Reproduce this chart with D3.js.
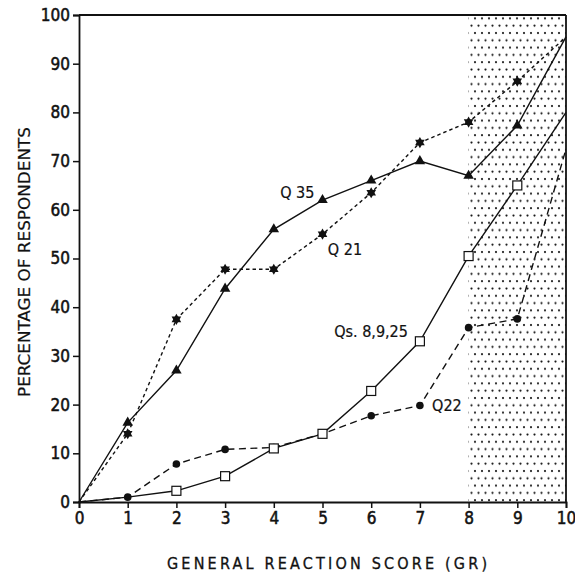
<!DOCTYPE html>
<html><head><meta charset="utf-8">
<script src="https://cdn.jsdelivr.net/npm/d3@7"></script>
<style>body{margin:0;background:#fff}svg{display:block}</style>
</head><body>
<script>
const xs = [0,1,2,3,4,5,6,7,8,9,10];
const q35 = [0,16.3,27,43.8,56,62,66,70,67,77.3,95.5];
const q21 = [0,14,37.5,47.8,47.8,55,63.5,73.8,78,86.4,95.5];
const qs8925 = [0,1,2.3,5.3,11,14,22.8,33,50.5,65,80];
const q22 = [0,1,7.8,10.8,11.2,14,17.7,19.8,35.8,37.6,72.5];
const yTicks = [0,10,20,30,40,50,60,70,80,90,100];
const xTicks = [0,1,2,3,4,5,6,7,8,9,10];
const shadeRange = [8,10];
const labels = [
  {text:"Q 35", x:4.13, y:62.4},
  {text:"Q 21", x:5.11, y:50.7},
  {text:"Qs. 8,9,25", x:5.24, y:33.9},
  {text:"Q22", x:7.25, y:18.7}
];
const xTitle = "GENERAL REACTION SCORE (GR)";
const yTitle = "PERCENTAGE OF RESPONDENTS";

const W=575,H=577, m={l:79,t:15,r:9,b:75};
const iw=W-m.l-m.r, ih=H-m.t-m.b;
const FONT="'DejaVu Sans Condensed','DejaVu Sans',sans-serif";
const svg=d3.select("body").append("svg").attr("width",W).attr("height",H);
const defs=svg.append("defs");
const pat=defs.append("pattern").attr("id","dots").attr("patternUnits","userSpaceOnUse")
  .attr("width",7).attr("height",14.6).attr("x",m.l).attr("y",m.t);
pat.append("circle").attr("cx",2).attr("cy",3).attr("r",1.1).attr("fill","#111");
pat.append("circle").attr("cx",5.5).attr("cy",10.3).attr("r",1.1).attr("fill","#111");

const g=svg.append("g").attr("transform",`translate(${m.l},${m.t})`);
const x=d3.scaleLinear().domain([0,10]).range([0,iw]);
const y=d3.scaleLinear().domain([0,100]).range([ih,0]);

g.append("rect").attr("x",x(shadeRange[0])).attr("y",0)
  .attr("width",x(shadeRange[1])-x(shadeRange[0])).attr("height",ih).attr("fill","url(#dots)");

const line=d3.line().x((d,i)=>x(xs[i])).y(d=>y(d));
function series(vals,dash){
  g.append("path").datum(vals).attr("d",line).attr("fill","none")
   .attr("stroke","#111").attr("stroke-width",1.4).attr("stroke-dasharray",dash);
}
series(q35,null);
series(q21,"3.5,3");
series(qs8925,null);
series(q22,"7,4.5");

// markers only at interior points (1..9)
const mk = a => a.slice(1,10);
const tri=d3.symbol().type(d3.symbolTriangle).size(48);
const triS=d3.symbol().type(d3.symbolTriangle).size(40);
g.selectAll(".t35").data(mk(q35)).join("path")
  .attr("d",tri).attr("transform",(d,i)=>`translate(${x(xs[i+1])},${y(d)})`).attr("fill","#111");
const st=g.selectAll(".s21").data(mk(q21)).join("g")
  .attr("transform",(d,i)=>`translate(${x(xs[i+1])},${y(d)})`);
st.append("path").attr("d",triS).attr("fill","#111");
st.append("path").attr("d",triS).attr("transform","rotate(180)").attr("fill","#111");
g.selectAll(".c22").data(mk(q22)).join("circle")
  .attr("cx",(d,i)=>x(xs[i+1])).attr("cy",d=>y(d)).attr("r",3.8).attr("fill","#111");
g.selectAll(".sq").data(qs8925.slice(2,10)).join("rect")
  .attr("x",(d,i)=>x(xs[i+2])-4.5).attr("y",d=>y(d)-4.5).attr("width",9).attr("height",9)
  .attr("fill","#fff").attr("stroke","#111").attr("stroke-width",1.2);

// axes
const ya=g.append("g").call(d3.axisLeft(y).tickValues(yTicks).tickSize(6).tickPadding(3));
const xa=g.append("g").attr("transform",`translate(0,${ih})`)
  .call(d3.axisBottom(x).tickValues(xTicks).tickSize(6).tickPadding(4));
[ya,xa].forEach(a=>{
  a.select(".domain").attr("stroke","#111").attr("stroke-width",1.8);
  a.selectAll(".tick line").attr("stroke","#111").attr("stroke-width",1.5);
  a.selectAll("text").attr("font-family",FONT).attr("font-size",17)
   .attr("fill","#111").attr("stroke","#111").attr("stroke-width",0.5);
});
g.append("line").attr("x1",0).attr("x2",iw).attr("y1",0).attr("y2",0).attr("stroke","#111").attr("stroke-width",1.8);
g.append("line").attr("x1",iw).attr("x2",iw).attr("y1",0).attr("y2",ih).attr("stroke","#111").attr("stroke-width",1.8);

// series labels
g.selectAll(".lbl").data(labels).join("text")
  .attr("x",d=>x(d.x)).attr("y",d=>y(d.y)).text(d=>d.text)
  .attr("font-family",FONT).attr("font-size",16).attr("fill","#111")
  .attr("stroke","#111").attr("stroke-width",0.2);

// axis titles
svg.append("text").attr("x",167).attr("y",569).text(xTitle)
  .attr("font-family",FONT).attr("font-size",16).attr("fill","#111")
  .attr("stroke","#111").attr("stroke-width",0.3)
  .attr("textLength",320).attr("lengthAdjust","spacing");
svg.append("text").attr("transform","translate(30,397) rotate(-90)").text(yTitle)
  .attr("font-family",FONT).attr("font-size",16.5).attr("fill","#111")
  .attr("stroke","#111").attr("stroke-width",0.2)
  .attr("textLength",270).attr("lengthAdjust","spacingAndGlyphs");
</script>
</body></html>
